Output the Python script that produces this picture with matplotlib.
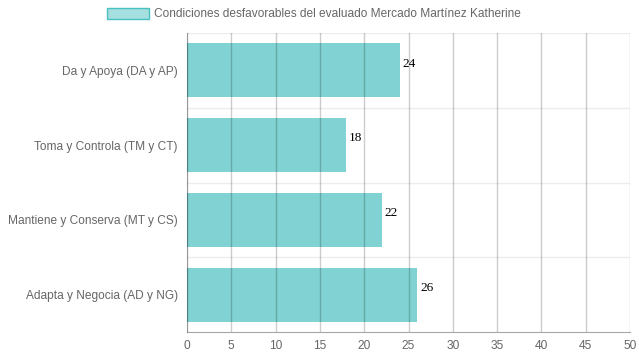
import matplotlib
matplotlib.use("Agg")
import matplotlib.pyplot as plt
from matplotlib.patches import Patch

# ===== data =====
categorias = ["Adapta y Negocia (AD y NG)", "Mantiene y Conserva (MT y CS)",
              "Toma y Controla (TM y CT)", "Da y Apoya (DA y AP)"]
valores = [26, 22, 18, 24]
ticks_x = [0, 5, 10, 15, 20, 25, 30, 35, 40, 45, 50]
leyenda = "Condiciones desfavorables del evaluado Mercado Martínez Katherine"

relleno = (129/255, 211/255, 211/255)
borde = (75/255, 192/255, 192/255)

plt.rcParams['font.family'] = ['Liberation Sans', 'DejaVu Sans']

fig = plt.figure(figsize=(6.39, 3.6), dpi=100)
ax = fig.add_axes([187/639, 1 - 332/360, 443/639, 299/360])

pos = list(range(len(categorias)))
ax.barh(pos, valores, height=0.72, color=relleno, zorder=1)

# etiquetas de valor
for p, v in zip(pos, valores):
    ax.text(v + 0.3, p + 0.09, str(v), va='center', ha='left', fontsize=9.5,
            family=['Liberation Serif'], color='black', zorder=3)

ax.set_xlim(0, 50)
ax.set_ylim(-0.5, len(categorias) - 0.5)
ax.set_xticks(ticks_x)
ax.set_yticks(pos)
ax.set_yticklabels(categorias)

# rejilla por encima de las barras (estilo chart.js)
for t in ticks_x:
    ax.axvline(t, color=(0, 0, 0, 0.2), lw=1, zorder=2)
for b in [i + 0.5 for i in pos[:-1]] + [len(categorias) - 0.5]:
    ax.axhline(b, color=(0, 0, 0, 0.07), lw=1, zorder=0)

for s in ['top', 'right']:
    ax.spines[s].set_visible(False)
ax.spines['left'].set_color((0, 0, 0, 0.25))
ax.spines['bottom'].set_color((0, 0, 0, 0.35))
ax.tick_params(axis='both', labelcolor='#666666', labelsize=8.6, length=0)
ax.tick_params(axis='y', pad=6.5)
ax.tick_params(axis='x', pad=6)

fig.legend(handles=[Patch(facecolor=(165/255, 223/255, 223/255), edgecolor=borde, lw=1)],
           labels=[leyenda], loc='upper center', bbox_to_anchor=(0.4914, 1.009),
           frameon=False, fontsize=8.6, handlelength=3.5, handleheight=1.15,
           handletextpad=0.4, labelcolor='#666666')

fig.savefig("out.png", dpi=100)
